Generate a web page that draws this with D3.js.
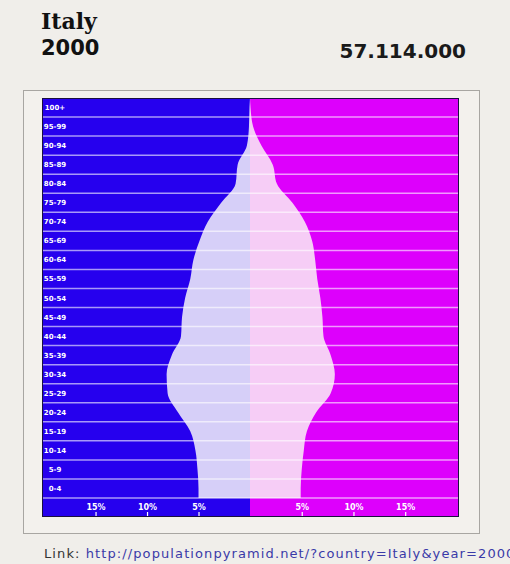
<!DOCTYPE html>
<html>
<head>
<meta charset="utf-8">
<script src="https://cdn.jsdelivr.net/npm/d3@7"></script>
<style>
	body { margin: 0; background: #f0eeea; overflow: hidden; }
	svg { display: block; }
</style>
</head>
<body>
<svg id="chart" width="510" height="564"></svg>
<script>
// age groups, top to bottom
var ages = ["100+", "95-99", "90-94", "85-89", "80-84", "75-79", "70-74", "65-69", "60-64",
	"55-59", "50-54", "45-49", "40-44", "35-39", "30-34", "25-29", "20-24", "15-19",
	"10-14", "5-9", "0-4"];
// percent, same order as ages
var male = [0.05, 0.1, 0.3, 1.2, 1.4, 2.8, 4.1, 4.9, 5.5, 5.8, 6.3, 6.6, 6.7, 7.6, 8.1,
	8.0, 7.0, 5.8, 5.3, 5.1, 5.0];
var female = [0.05, 0.3, 1.1, 2.2, 2.6, 4.1, 5.3, 6.0, 6.3, 6.5, 6.8, 7.0, 7.1, 7.8, 8.2,
	7.8, 6.4, 5.5, 5.2, 5.0, 4.9];
var tickValues = [5, 10, 15];
var country = "Italy", year = "2000", total = "57.114.000";
var link = "http://populationpyramid.net/?country=Italy&year=2000";

(function () {
	var svg = d3.select("#chart");

	var left = 42, right = 459, mid = 250, topY = 98, rowsBottom = 498, bottomY = 517;

	var xL = d3.scaleLinear().domain([0, 20.2]).range([mid, left]);
	var xR = d3.scaleLinear().domain([0, 20.2]).range([mid, right]);
	var y = d3.scaleBand().domain(ages).range([topY, rowsBottom]);

	// header
	svg.append("text").attr("x", 41).attr("y", 29)
		.style("font-family", "DejaVu Serif").style("font-weight", "bold").style("font-size", "22px")
		.attr("fill", "#111").text(country);
	svg.append("text").attr("x", 41).attr("y", 55)
		.style("font-family", "DejaVu Sans").style("font-weight", "bold").style("font-size", "21px")
		.attr("fill", "#111").text(year);
	svg.append("text").attr("x", 466).attr("y", 58).attr("text-anchor", "end")
		.style("font-family", "DejaVu Sans").style("font-size", "20px").style("font-weight", "bold")
		.attr("fill", "#1a1a1a").text(total);

	// outer box
	svg.append("rect").attr("x", 23.5).attr("y", 90.5).attr("width", 456).attr("height", 443)
		.attr("fill", "#f3f1ed").attr("stroke", "#a8a6a2");

	// backgrounds
	svg.append("rect").attr("x", left).attr("y", topY).attr("width", mid - left).attr("height", bottomY - topY)
		.attr("fill", "#2600ee");
	svg.append("rect").attr("x", mid).attr("y", topY).attr("width", right - mid).attr("height", bottomY - topY)
		.attr("fill", "#dd00fc");

	// pyramid areas
	function pts(vals) {
		var p = vals.map(function(v, i) { return {y: y(ages[i]) + y.bandwidth() / 2, v: v}; });
		p.unshift({y: topY, v: 0});
		p.push({y: rowsBottom, v: vals[vals.length - 1]});
		return p;
	}
	var areaL = d3.area().curve(d3.curveMonotoneY)
		.y(function(d) { return d.y; })
		.x0(mid).x1(function(d) { return xL(d.v); });
	var areaR = d3.area().curve(d3.curveMonotoneY)
		.y(function(d) { return d.y; })
		.x0(mid).x1(function(d) { return xR(d.v); });

	svg.append("path").attr("d", areaL(pts(male))).attr("fill", "#d6cff8");
	svg.append("path").attr("d", areaR(pts(female))).attr("fill", "#f6cdf6");

	// row lines
	svg.selectAll(".rowline").data(ages.slice(1).concat(["end"]))
		.enter().append("line")
		.attr("x1", left).attr("x2", right)
		.attr("y1", function(d) { return d === "end" ? rowsBottom : y(d); })
		.attr("y2", function(d) { return d === "end" ? rowsBottom : y(d); })
		.attr("stroke", "#ffffff").attr("stroke-opacity", 0.6).attr("stroke-width", 1.5);

	// age labels
	svg.selectAll(".age").data(ages)
		.enter().append("text")
		.attr("x", 55).attr("y", function(d) { return y(d) + y.bandwidth() / 2 + 2.5; })
		.attr("text-anchor", "middle")
		.style("font-family", "DejaVu Sans").style("font-weight", "bold").style("font-size", "7px")
		.attr("fill", "#ffffff").text(function(d) { return d; });

	// percent axes
	[xL, xR].forEach(function(sc) {
		var g = svg.append("g").attr("transform", "translate(0," + bottomY + ")")
			.call(d3.axisTop(sc).tickValues(tickValues).tickSize(5).tickPadding(2)
				.tickFormat(function(d) { return d + "%"; }));
		g.select(".domain").remove();
		g.selectAll("line").attr("stroke", "#ffffff").attr("stroke-width", 1.2);
		g.selectAll("text").attr("fill", "#ffffff")
			.style("font-family", "DejaVu Sans").style("font-weight", "bold").style("font-size", "8px");
	});

	// chart border
	svg.append("rect").attr("x", left + 0.5).attr("y", topY + 0.5)
		.attr("width", right - left - 1).attr("height", bottomY - topY - 1)
		.attr("fill", "none").attr("stroke", "#1a1040");

	// link (runs off the right edge, as in the original)
	var lt = svg.append("text").attr("x", 44).attr("y", 558)
		.style("font-family", "DejaVu Sans").style("font-size", "13px").style("letter-spacing", "1.1px");
	lt.append("tspan").attr("fill", "#333").text("Link: ");
	lt.append("tspan").attr("fill", "#3a3aa8").text(link);
})();
</script>
</body>
</html>
